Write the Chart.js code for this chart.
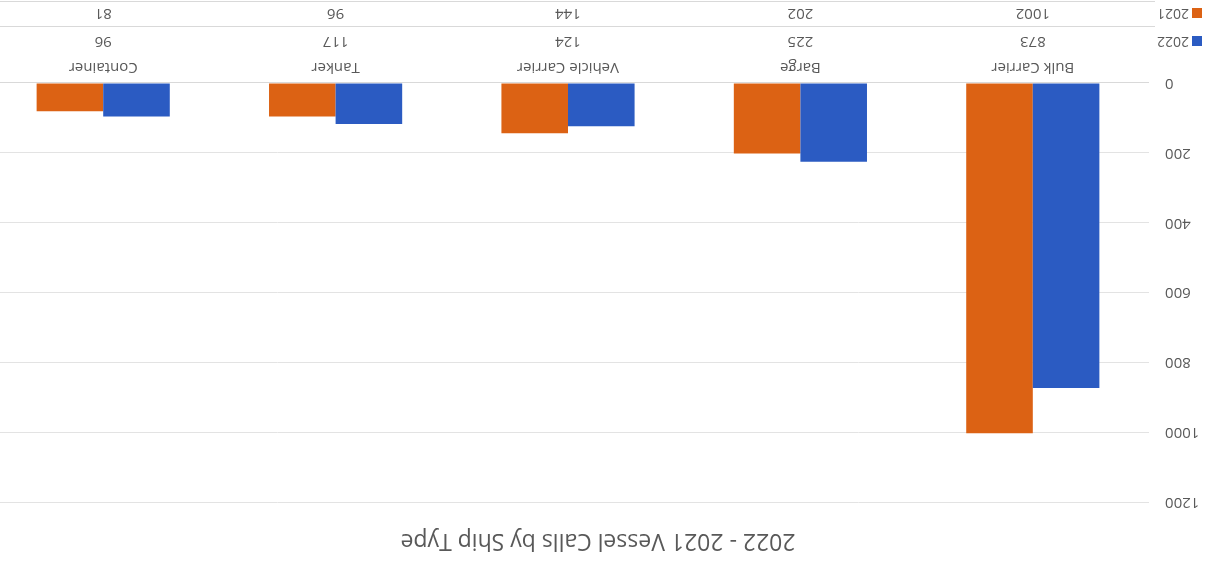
<!DOCTYPE html>
<html>
<head>
<meta charset="utf-8">
<script src="https://cdn.jsdelivr.net/npm/chart.js@4/dist/chart.umd.min.js"></script>
<style>
  body { margin: 0; background: #fff; }
  /* the reference picture is upside down, so the whole chart is turned */
  #wrap { width: 1209px; height: 571px; overflow: hidden; transform: rotate(180deg); background: #fff; }
</style>
</head>
<body>
<div id="wrap"><canvas id="chart" width="1222" height="571"></canvas></div>
<script>
// ----------------------
// DATA
// ----------------------
const shipTypes = ['Bulk Carrier', 'Barge', 'Vehicle Carrier', 'Tanker', 'Container'];
const seriesNames = ['2022', '2021'];
const calls2022 = [873, 225, 124, 117, 96];
const calls2021 = [1002, 202, 144, 96, 81];
const yTicks = [0, 200, 400, 600, 800, 1000, 1200];

const BLUE = '#2b5bc2';
const ORANGE = '#dc6214';
const TEXT = '#595959';
const FONT = "'Open Sans', 'Liberation Sans', sans-serif";

// data table under the x axis (Excel style)
const dataTablePlugin = {
  id: 'dataTable',
  afterDraw(chart) {
    const { ctx } = chart;
    const x = chart.scales.x;
    const rows = [
      { name: seriesNames[0], color: BLUE, values: calls2022, y: 530 },
      { name: seriesNames[1], color: ORANGE, values: calls2021, y: 558 }
    ];
    ctx.save();
    ctx.strokeStyle = '#d9d9d9';
    ctx.lineWidth = 1;
    [544.5, 569.5].forEach(ly => {
      ctx.beginPath();
      ctx.moveTo(54, ly);
      ctx.lineTo(chart.width, ly);
      ctx.stroke();
    });
    ctx.textBaseline = 'middle';
    rows.forEach(r => {
      ctx.fillStyle = r.color;
      ctx.fillRect(7, r.y - 5, 10, 10);
      ctx.fillStyle = TEXT;
      ctx.textAlign = 'left';
      ctx.font = `14px ${FONT}`;
      ctx.fillText(r.name, 20, r.y);
      ctx.textAlign = 'center';
      ctx.font = `15px ${FONT}`;
      r.values.forEach((v, i) => ctx.fillText(String(v), x.getPixelForValue(i), r.y));
    });
    ctx.restore();
  }
};

new Chart(document.getElementById('chart'), {
  type: 'bar',
  data: {
    labels: shipTypes,
    datasets: [
      { label: seriesNames[0], data: calls2022, backgroundColor: BLUE },
      { label: seriesNames[1], data: calls2021, backgroundColor: ORANGE }
    ]
  },
  options: {
    responsive: false,
    animation: false,
    categoryPercentage: 0.573,
    barPercentage: 1.0,
    layout: { padding: 0 },
    plugins: {
      legend: { display: false },
      tooltip: { enabled: false },
      title: {
        display: true,
        text: '2022 - 2021 Vessel Calls by Ship Type',
        color: TEXT,
        font: { family: FONT, size: 23, weight: 'normal' },
        padding: { top: 17, bottom: 24 }
      }
    },
    scales: {
      x: {
        grid: { display: false, drawTicks: false },
        border: { color: '#d9d9d9' },
        ticks: { color: TEXT, font: { family: FONT, size: 15 }, padding: 7, maxRotation: 0 },
        afterFit: s => { s.height = 83; }
      },
      y: {
        min: yTicks[0],
        max: yTicks[yTicks.length - 1],
        grid: { color: '#e3e3e3', drawTicks: false },
        border: { display: false },
        afterBuildTicks: s => { s.ticks = yTicks.map(v => ({ value: v })); },
        ticks: { color: TEXT, font: { family: FONT, size: 15 }, padding: 16, callback: v => String(v) },
        afterFit: s => { s.width = 60; }
      }
    }
  },
  plugins: [dataTablePlugin]
});
</script>
</body>
</html>
